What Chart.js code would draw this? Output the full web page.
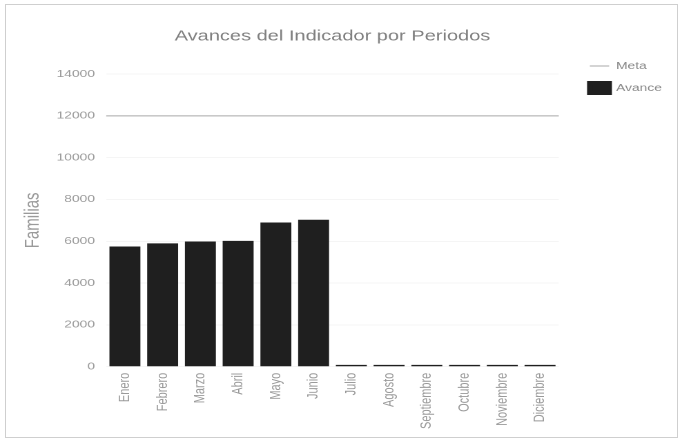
<!DOCTYPE html>
<html>
<head>
<meta charset="utf-8">
<script src="https://cdn.jsdelivr.net/npm/chart.js@4/dist/chart.umd.min.js"></script>
<style>
  html, body { margin: 0; padding: 0; background: #ffffff; }
  body { width: 682px; height: 441px; position: relative; overflow: hidden; }
  #wrap { position: absolute; left: 0; top: 0; width: 494px; height: 441px;
          transform: scaleX(1.3806); transform-origin: 0 0; }
  #frame { position: absolute; left: 5px; top: 4px; width: 671px; height: 432px;
           border: 1px solid #cfcfcf; pointer-events: none; }
</style>
</head>
<body>
<div id="wrap"><canvas id="c" width="494" height="441"></canvas></div>
<div id="frame"></div>
<script>
const categories = ['Enero','Febrero','Marzo','Abril','Mayo','Junio','Julio','Agosto','Septiembre','Octubre','Noviembre','Diciembre'];
const avance = [5750, 5900, 5990, 6020, 6900, 7030, 90, 90, 90, 90, 90, 90];
const meta = [12000, 12000];
const yTicks = [0, 2000, 4000, 6000, 8000, 10000, 12000, 14000];

const FONT = "'Liberation Sans', Arial, sans-serif";
Chart.defaults.font.family = FONT;

new Chart(document.getElementById('c'), {
  type: 'bar',
  data: {
    labels: categories,
    datasets: [
      {
        type: 'line',
        label: 'Meta',
        data: meta.map((v, i) => ({ x: i / (meta.length - 1), y: v })),
        xAxisID: 'x2',
        borderColor: '#a8a8a8',
        backgroundColor: '#a8a8a8',
        borderWidth: 1,
        pointRadius: 0,
        order: 0
      },
      {
        label: 'Avance',
        data: avance,
        backgroundColor: '#1f1f1f',
        borderWidth: 0,
        grouped: false,
        barPercentage: 0.82,
        categoryPercentage: 1.0,
        order: 1
      }
    ]
  },
  options: {
    responsive: false,
    devicePixelRatio: 2,
    animation: false,
    layout: { padding: { left: 10, right: 4.6, top: 0, bottom: 6 } },
    plugins: {
      title: {
        display: true,
        text: 'Avances del Indicador por Periodos',
        fullSize: false,
        color: '#808080',
        font: { size: 14.5, weight: 'normal', family: FONT },
        padding: { top: 28, bottom: 28.6 }
      },
      legend: {
        position: 'right',
        align: 'start',
        title: { display: true, text: '', font: { size: 10 }, padding: { top: 18, bottom: 19 } },
        labels: {
          usePointStyle: true,
          pointStyleWidth: 14,
          padding: 12,
          color: '#8a8a8a',
          font: { size: 10, family: FONT },
          generateLabels(chart) {
            const items = Chart.defaults.plugins.legend.labels.generateLabels(chart);
            items.forEach(it => {
              if (it.text === 'Meta') {
                it.pointStyle = 'line'; it.strokeStyle = '#a8a8a8'; it.fillStyle = '#a8a8a8'; it.lineWidth = 1;
              } else {
                it.pointStyle = 'rect'; it.strokeStyle = '#1f1f1f'; it.fillStyle = '#1f1f1f'; it.lineWidth = 4;
              }
            });
            return items;
          }
        }
      },
      tooltip: { enabled: false }
    },
    scales: {
      x: {
        type: 'category',
        offset: true,
        grid: { display: false, drawTicks: false },
        border: { display: false },
        ticks: {
          color: '#9a9a9a',
          font: { size: 11, family: FONT },
          maxRotation: 90, minRotation: 90,
          padding: 6,
          autoSkip: false
        }
      },
      x2: {
        type: 'linear',
        display: false,
        offset: false,
        grid: { offset: false },
        min: 0, max: 1
      },
      y: {
        min: yTicks[0],
        max: yTicks[yTicks.length - 1],
        afterBuildTicks: s => { s.ticks = yTicks.map(v => ({ value: v })); },
        grid: { color: 'rgba(0,0,0,0.04)', drawTicks: false },
        border: { display: false },
        ticks: {
          color: '#9a9a9a',
          font: { size: 10, family: FONT },
          padding: 8,
          callback: v => String(v)
        },
        title: {
          display: true,
          text: 'Familias',
          color: '#9a9a9a',
          font: { size: 15, family: FONT },
          padding: { top: 5, bottom: 0 }
        }
      },
      yR: {
        position: 'right',
        display: true,
        grid: { display: false },
        border: { display: false },
        ticks: { display: false },
        afterFit: s => { s.width = 10.4; }
      }
    }
  }
});
</script>
</body>
</html>
